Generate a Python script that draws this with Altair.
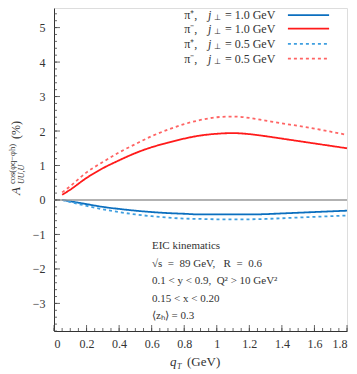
import altair as alt
import pandas as pd

qT = [0.05, 0.1, 0.2, 0.3, 0.4, 0.5, 0.6, 0.7, 0.8, 0.9, 1.0, 1.1, 1.2, 1.3, 1.4, 1.5, 1.6, 1.7, 1.8]
pip_10 = [0.0, -0.04, -0.12, -0.2, -0.26, -0.31, -0.35, -0.38, -0.4, -0.42, -0.42, -0.42, -0.42, -0.41, -0.39, -0.37, -0.35, -0.33, -0.31]
pim_10 = [0.15, 0.3, 0.64, 0.92, 1.15, 1.36, 1.53, 1.66, 1.78, 1.87, 1.92, 1.94, 1.91, 1.85, 1.78, 1.71, 1.64, 1.57, 1.5]
pip_05 = [0.0, -0.06, -0.17, -0.27, -0.35, -0.42, -0.47, -0.51, -0.54, -0.55, -0.56, -0.56, -0.56, -0.55, -0.53, -0.51, -0.49, -0.47, -0.45]
pim_05 = [0.22, 0.4, 0.8, 1.1, 1.38, 1.62, 1.85, 2.04, 2.2, 2.32, 2.4, 2.42, 2.38, 2.3, 2.22, 2.15, 2.07, 1.98, 1.89]

series_names = ["π⁺, 1.0", "π⁻, 1.0", "π⁺, 0.5", "π⁻, 0.5"]
legend_pion = ["π⁺,", "π⁻,", "π⁺,", "π⁻,"]
legend_val = ["= 1.0 GeV", "= 1.0 GeV", "= 0.5 GeV", "= 0.5 GeV"]
series_colors = ["#0b6fbf", "#ff1a1a", "#3f9fe0", "#ff6464"]
series_dash = [[1, 0], [1, 0], [3, 3], [3, 3]]
series_width = [1.8, 1.8, 1.3, 1.3]

x_ticks = [0, 0.2, 0.4, 0.6, 0.8, 1.0, 1.2, 1.4, 1.6, 1.8]
y_ticks = [-3, -2, -1, 0, 1, 2, 3, 4, 5]

NB = "\u00a0"
notes = ["EIC kinematics",
         f"√s{NB}{NB}={NB}{NB}89 GeV,{NB}{NB}{NB}R{NB}{NB}={NB}{NB}0.6",
         f"0.1 < y < 0.9,{NB}{NB}Q² > 10 GeV²",
         "0.15 < x < 0.20",
         "⟨zₕ⟩ = 0.3"]
note_y = [-1.41, -1.93, -2.43, -2.95, -3.45]
legend_y = [5.36, 4.97, 4.53, 4.1]

FONT = "Liberation Serif"
TXT = "#333333"
W, H = 293, 323
xdom = [0, 1.8]
ydom = [-3.8, 5.568]
xs = alt.Scale(domain=xdom, nice=False, zero=False)
ys = alt.Scale(domain=ydom, nice=False, zero=False)
XA = alt.Axis(values=x_ticks, format="~g", ticks=False, grid=False, labelPadding=7, labelFontSize=12,
              labelFont=FONT, labelColor=TXT, domainColor="#333333", title=None)
YA = alt.Axis(values=y_ticks, ticks=False, grid=False, labelPadding=9, labelFontSize=12,
              labelFont=FONT, labelColor=TXT, domainColor="#333333", title=None)


def X(f):
    return alt.X(f, scale=xs, axis=XA)


def Y(f):
    return alt.Y(f, scale=ys, axis=YA)


rows = []
for name, vals in zip(series_names, [pip_10, pim_10, pip_05, pim_05]):
    for q, v in zip(qT, vals):
        rows.append({"q": q, "A": v, "s": name})
df = pd.DataFrame(rows)

color_scale = alt.Scale(domain=series_names, range=series_colors)
dash_scale = alt.Scale(domain=series_names, range=series_dash)
width_scale = alt.Scale(domain=series_names, range=series_width)
style_enc = dict(
    color=alt.Color("s:N", scale=color_scale, legend=None),
    strokeDash=alt.StrokeDash("s:N", scale=dash_scale, legend=None),
    strokeWidth=alt.StrokeWidth("s:N", scale=width_scale, legend=None),
)

zero = alt.Chart(pd.DataFrame({"z": [0]})).mark_rule(color="#999999", strokeWidth=1.5).encode(y=Y("z:Q"))

lines = alt.Chart(df).mark_line(interpolate="monotone").encode(x=X("q:Q"), y=Y("A:Q"), **style_enc)

# inward ticks
ymin_vals = [round(-3.8 + 0.2 * i, 2) for i in range(47) if round(-3.8 + 0.2 * i, 2) <= 5.5]
xmin_vals = [round(0.05 * i, 2) for i in range(37)]
tk = dict(color="#444444", strokeWidth=0.8)
ytick_maj = alt.Chart(pd.DataFrame({"v": y_ticks})).mark_rule(**tk).encode(y=Y("v:Q"), x=alt.value(0), x2=alt.value(6))
ytick_min = alt.Chart(pd.DataFrame({"v": ymin_vals})).mark_rule(**tk).encode(y=Y("v:Q"), x=alt.value(0), x2=alt.value(3))
xtick_maj = alt.Chart(pd.DataFrame({"v": x_ticks})).mark_rule(**tk).encode(x=X("v:Q"), y=alt.value(H), y2=alt.value(H - 6))
xtick_min = alt.Chart(pd.DataFrame({"v": xmin_vals})).mark_rule(**tk).encode(x=X("v:Q"), y=alt.value(H), y2=alt.value(H - 3))

# legend
leg = pd.DataFrame({"s": series_names, "p": legend_pion, "v": legend_val, "y": legend_y,
                    "x0": [1.437] * 4, "x1": [1.69] * 4,
                    "xp": [0.80] * 4, "xj": [0.946] * 4, "xb": [0.98] * 4, "xv": [1.05] * 4,
                    "j": ["j"] * 4, "b": ["⊥"] * 4})
tx = dict(baseline="middle", font=FONT, color=TXT)
leg_p = alt.Chart(leg).mark_text(align="left", fontSize=12, **tx).encode(x=X("xp:Q"), y=Y("y:Q"), text="p:N")
leg_j = alt.Chart(leg).mark_text(align="left", fontSize=12, fontStyle="italic", **tx).encode(x=X("xj:Q"), y=Y("y:Q"), text="j:N")
leg_b = alt.Chart(leg).mark_text(align="left", fontSize=8, dy=3, **tx).encode(x=X("xb:Q"), y=Y("y:Q"), text="b:N")
leg_v = alt.Chart(leg).mark_text(align="left", fontSize=12, **tx).encode(x=X("xv:Q"), y=Y("y:Q"), text="v:N")
leg_lines = alt.Chart(leg).mark_rule().encode(x=X("x0:Q"), x2="x1:Q", y=Y("y:Q"), **style_enc)

# annotation
nd = pd.DataFrame({"t": notes, "y": note_y, "x": [0.602] * len(notes)})
note_text = alt.Chart(nd).mark_text(align="left", baseline="alphabetic", font=FONT, fontSize=11, color=TXT).encode(
    x=X("x:Q"), y=Y("y:Q"), text="t:N")


def label(txt, x, y, size, angle=0, style="normal", align="left"):
    return alt.Chart(pd.DataFrame({"t": [txt]})).mark_text(
        align=align, baseline="alphabetic", font=FONT, fontSize=size, color=TXT,
        angle=angle, fontStyle=style).encode(x=alt.value(x), y=alt.value(y), text="t:N")


ytitle = (label("A", -34, 187, 13, 270, "italic")
          + label("UU,U", -30, 176, 8, 270, "italic")
          + label("cos(φq−φh)", -39, 176, 8.5, 270)
          + label("(%)", -34, 131, 12, 270))
xtitle = (label("q", 116, 358, 13, 0, "italic")
          + label("T", 123, 361, 8, 0, "italic")
          + label("(GeV)", 133, 358, 13))

chart = alt.layer(lines, zero, ytick_maj, ytick_min, xtick_maj, xtick_min,
                  leg_lines, leg_p, leg_j, leg_b, leg_v, note_text, ytitle, xtitle).properties(
    width=W, height=H,
    autosize=alt.AutoSizeParams(type="none"),
    padding={"left": 46, "top": 0, "right": 2, "bottom": 40},
).configure_view(stroke="#333333", strokeWidth=1).configure(background="white")

chart.save("out.html", embed_options={"renderer": "svg", "actions": False})
